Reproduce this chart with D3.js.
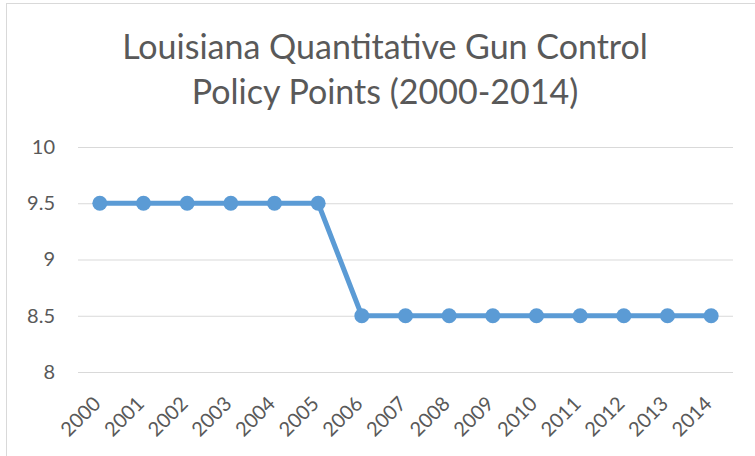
<!DOCTYPE html>
<html>
<head>
<meta charset="utf-8">
<script src="https://cdn.jsdelivr.net/npm/d3@7"></script>
<style>
  body { margin: 0; background: #fff; }
  svg { display: block; font-family: Lato, "Open Sans", sans-serif; }
</style>
</head>
<body>
<div id="chart"></div>
<script>
// chart values
const years = ['2000','2001','2002','2003','2004','2005','2006','2007','2008','2009','2010','2011','2012','2013','2014'];
const points = [9.5, 9.5, 9.5, 9.5, 9.5, 9.5, 8.5, 8.5, 8.5, 8.5, 8.5, 8.5, 8.5, 8.5, 8.5];
const yTicks = [8, 8.5, 9, 9.5, 10];
const titleLines = ['Louisiana Quantitative Gun Control', 'Policy Points (2000-2014)'];

const width = 755, height = 456;
const plotLeft = 78, plotRight = 733, plotTop = 147, plotBottom = 372;

const svg = d3.select('#chart').append('svg')
    .attr('width', width)
    .attr('height', height);

// chart frame
svg.append('rect')
    .attr('x', 6.5).attr('y', 3.5)
    .attr('width', 760).attr('height', 460)
    .attr('fill', '#fff')
    .attr('stroke', '#d9d9d9')
    .attr('stroke-width', 1);

// title
svg.append('text')
    .attr('text-anchor', 'middle')
    .attr('fill', '#595959')
    .style('font-size', '34px')
    .selectAll('tspan')
    .data(titleLines)
    .join('tspan')
    .attr('x', 385)
    .attr('y', (d, i) => 59 + i * 45)
    .text(d => d);

const x = d3.scaleBand().domain(years).range([plotLeft, plotRight]);
const y = d3.scaleLinear().domain([8, 10]).range([plotBottom, plotTop]);
const cx = d => x(d) + x.bandwidth() / 2;

// y axis with gridlines
const yAxis = svg.append('g')
    .attr('transform', `translate(${plotLeft},0)`)
    .call(d3.axisLeft(y).tickValues(yTicks).tickSize(-(plotRight - plotLeft)).tickPadding(23)
        .tickFormat(d => String(d)));
yAxis.select('.domain').remove();
yAxis.selectAll('.tick line').attr('stroke', '#d9d9d9').attr('stroke-width', 1.2);
yAxis.selectAll('.tick text')
    .attr('fill', '#595959')
    .style('font-size', '20px')
    .style('font-family', 'Lato, sans-serif');

// x axis labels
const xAxis = svg.append('g')
    .attr('transform', `translate(0,${plotBottom})`)
    .call(d3.axisBottom(x).tickSize(0));
xAxis.select('.domain').remove();
xAxis.selectAll('.tick text')
    .attr('x', 0).attr('y', 0).attr('dy', 0)
    .attr('transform', 'translate(2,33) rotate(-45)')
    .style('text-anchor', 'end')
    .style('font-size', '20px')
    .style('font-family', 'Lato, sans-serif')
    .attr('fill', '#595959');

// series line
const line = d3.line()
    .x((d, i) => cx(years[i]))
    .y(d => y(d));

svg.append('path')
    .datum(points)
    .attr('d', line)
    .attr('fill', 'none')
    .attr('stroke', '#5b9bd5')
    .attr('stroke-width', 5)
    .attr('stroke-linejoin', 'round');

svg.selectAll('circle.pt')
    .data(points)
    .join('circle')
    .attr('class', 'pt')
    .attr('cx', (d, i) => cx(years[i]))
    .attr('cy', d => y(d))
    .attr('r', 7.5)
    .attr('fill', '#5b9bd5');
</script>
</body>
</html>
